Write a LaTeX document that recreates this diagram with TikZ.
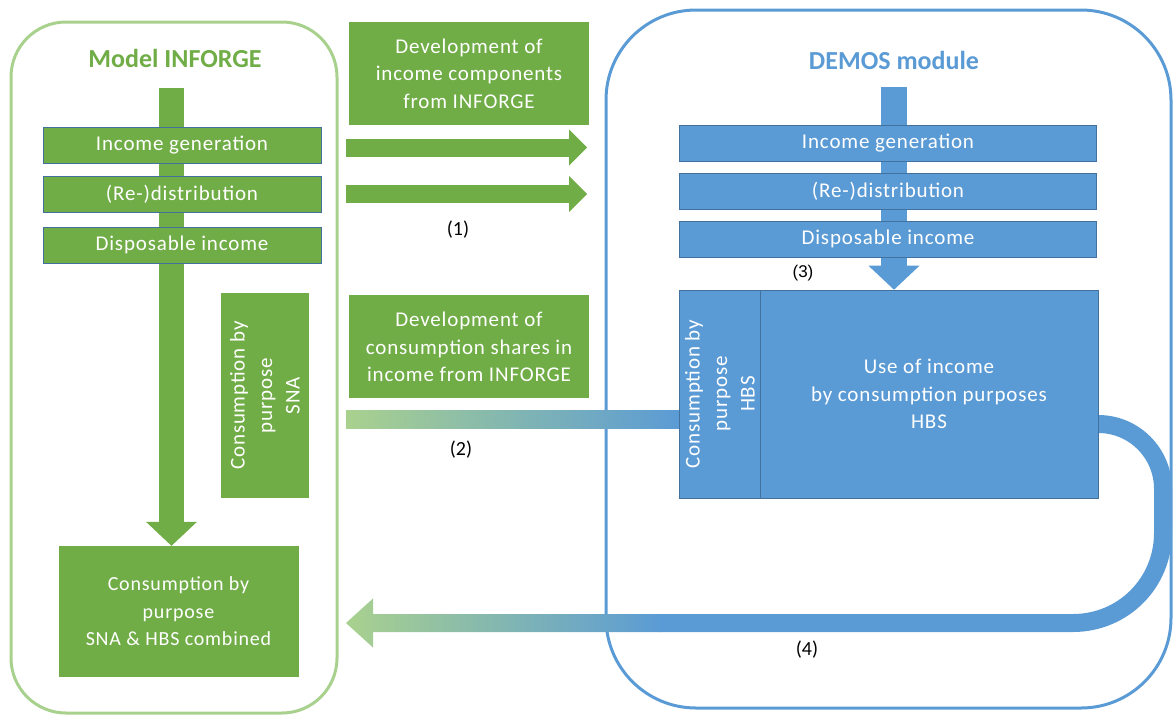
\documentclass[tikz,border=0pt]{standalone}
\usepackage{fontspec}
\setmainfont{Carlito}
\newfontfamily\labelfont{Liberation Sans}
\usetikzlibrary{arrows.meta,positioning,calc}
\pgfdeclarelayer{background}
\pgfsetlayers{background,main}

\definecolor{inforge}{HTML}{70AD47}
\definecolor{inforgepale}{HTML}{A9D18E}
\definecolor{demos}{HTML}{5B9BD5}
\definecolor{demosedge}{HTML}{41719C}

\begin{document}
\begin{tikzpicture}[x=1pt,y=-1pt,
    every node/.style={inner sep=0pt,align=center},
    box text/.style={text=white,font=\fontsize{21}{27.5}\selectfont\addfontfeature{LetterSpace=4}},
    green bar/.style={box text,fill=inforge,draw=demosedge,line width=0.6pt,
                      minimum width=278pt,minimum height=36pt},
    blue bar/.style={box text,fill=demos,draw=demosedge,line width=0.6pt,
                     minimum width=417.5pt,minimum height=36pt},
    green box/.style={box text,fill=inforge,minimum width=240pt,minimum height=103pt},
    blue box/.style={box text,fill=demos,draw=demosedge,line width=0.6pt,minimum height=208pt},
    model frame/.style={line width=3pt,rounded corners=#1},
    title/.style={font=\fontsize{26}{30}\selectfont\bfseries},
    num label/.style={font=\fontsize{20}{22}\selectfont},
    down flow/.style={line width=25pt,-{Triangle[length=24pt,width=51pt,line width=0pt]}},
    side flow/.style={draw=inforge,line width=18pt,-{Triangle[length=18pt,width=36pt,line width=0pt]}}]

  \useasboundingbox (0,0) rectangle (1173,716);

  % INFORGE side
  \node[title,text=inforge] (inforge) at (175,58) {Model INFORGE};
  \node[green bar] (gig) at (182,145) {Income generation};
  \node[green bar,below=13pt of gig] (grd) {(Re-)distribution};
  \node[green bar,below=14pt of grd] (gdi) {Disposable income};
  \node[green box,rotate=90,minimum width=205pt,minimum height=88pt] (sna) at (265,395.5)
    {Consumption by\\purpose\\SNA};
  \node[green box,minimum height=131pt,font=\fontsize{20}{27.5}\selectfont\addfontfeature{LetterSpace=4}]
    (combo) at (178.5,611.5) {Consumption by\\purpose\\SNA \& HBS combined};

  % exchange boxes
  \node[green box] (devinc) at (469,73.5) {Development of\\income components\\from INFORGE};
  \node[green box,below=170pt of devinc] (devcons)
    {Development of\\consumption shares in\\income from INFORGE};

  % DEMOS side
  \node[title,text=demos] (demos) at (894,60) {DEMOS module};
  \node[blue bar] (big) at (888,143) {Income generation};
  \node[blue bar,below=12pt of big] (brd) {(Re-)distribution};
  \node[blue bar,below=11pt of brd] (bdi) {Disposable income};
  \node[blue box,minimum width=338pt] (use) at (929,394)
    {Use of income\\by consumption purposes\\HBS};
  \node[blue box,rotate=90,minimum width=208pt,minimum height=80.5pt] (hbs) at (720,394)
    {Consumption by\\purpose\\HBS};

  \node[num label] (n1) at (458,230) {(1)};
  \node[num label] (n2) at (461,450) {(2)};
  \node[font=\labelfont\fontsize{17}{19}\selectfont] (n3) at (803,273) {(3)};
  \node[num label] (n4) at (807,650) {(4)};

  \begin{pgfonlayer}{background}
    \draw[model frame=55pt,draw=inforgepale] (11,22) rectangle (337,713);
    \draw[model frame=90pt,draw=demos] (606,10) rectangle (1171,708);

    \coordinate (gtop) at (171.5,88);
    \coordinate (btop) at (894,87);
    \coordinate (a1s) at (346,147.5);
    \coordinate (a2s) at (346,194);
    \coordinate (b2s) at (346,410);
    \coordinate (l4s) at ($(use.east)+(0,30)$);
    \coordinate (l4g) at (660,623);
    \coordinate (l4t) at (346,623);

    \draw[down flow,draw=inforge] (gtop) -- (gtop |- combo.north);
    \draw[down flow,draw=demos,line width=26pt] (btop) -- (btop |- use.north);
    \draw[side flow] (a1s) -- ($(a1s -| devinc.east)+(-2,0)$);
    \draw[side flow] (a2s) -- ($(a2s -| devinc.east)+(-2,0)$);

    % (2) shares into HBS
    \shade[left color=inforgepale,right color=demos] (b2s) rectangle ($(hbs.north)+(0,34)$);

    % (4) loop back to INFORGE
    \draw[demos,line width=18pt] (l4s) .. controls (1134,424) and (1163,453) .. (1163,489)
      -- (1163,533) .. controls (1163,583) and (1123,623) .. (1073,623) -- (l4g);
    \shade[left color=inforgepale,right color=demos] (l4t) -- ($(l4t)+(27,-24.5)$)
      -- ($(l4t)+(27,-9)$) -- ($(l4g)+(1,-9)$) -- ($(l4g)+(1,9)$) -- ($(l4t)+(27,9)$)
      -- ($(l4t)+(27,24.5)$) -- cycle;
  \end{pgfonlayer}
\end{tikzpicture}
\end{document}
